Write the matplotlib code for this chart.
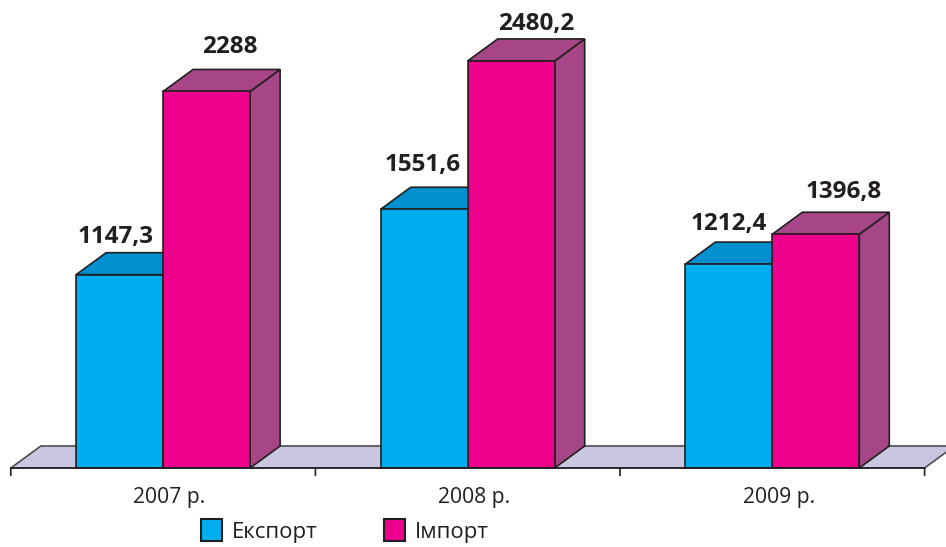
import numpy as np
import matplotlib
matplotlib.use("Agg")
import matplotlib.pyplot as plt
from matplotlib.patches import Polygon, Patch
from matplotlib.transforms import IdentityTransform

years = ["2007 р.", "2008 р.", "2009 р."]
export_values = [1147.3, 1551.6, 1212.4]
import_values = [2288, 2480.2, 1396.8]
export_labels = ["1147,3", "1551,6", "1212,4"]
import_labels = ["2288", "2480,2", "1396,8"]
series_names = ["Експорт", "Імпорт"]

plt.rcParams["font.family"] = ["Open Sans", "DejaVu Sans"]
W, H = 946, 547
fig = plt.figure(figsize=(W / 100, H / 100), dpi=100)
ax = fig.add_axes([0, 0, 1, 1])

INK = "#231F20"
C_EXP, C_EXP_TOP = "#00AEEF", "#0090CF"
C_IMP, C_IMP_DARK = "#EC008C", "#A64686"
C_FLOOR = "#C8C6E1"

# Slightly non-linear value axis, as the picture's perspective has it
P = 0.966
fwd = lambda v: np.sign(v) * np.abs(v) ** P
inv = lambda u: np.sign(u) * np.abs(u) ** (1 / P)
ax.set_yscale("function", functions=(fwd, inv))

px_per_cat = 304.6
cat0_px = 163.1
base_px = 468
k = 193.3 / fwd(1147.3)
ax.set_xlim(-cat0_px / px_per_cat, (W - cat0_px) / px_per_cat)
ax.set_ylim(inv(-(H - base_px) / k), inv(base_px / k))
ax.axis("off")
ax.set_yticks([])

DX, DY = 30, 22
LW = 1.2
bw = 87 / px_per_cat


def to_px(x, y):
    return ax.transData.transform((x, y))


def poly(pts, fc, z, ec=INK, lw=LW):
    ax.add_patch(Polygon(pts, closed=True, fc=fc, ec=ec, lw=lw, joinstyle="miter",
                         transform=IdentityTransform(), zorder=z, clip_on=False))


def box(x0, x1, v, front, top, side, z):
    a, b = to_px(x0, 0), to_px(x1, v)
    d = np.array([DX, DY])
    fl, fr, tl, tr = a, np.array([b[0], a[1]]), np.array([a[0], b[1]]), b
    poly([fr, tr, tr + d, fr + d], side, z)
    poly([tl, tr, tr + d, tl + d], top, z)
    poly([fl, fr, tr, tl], front, z + 0.1)


# Floor
xl, xr = -0.5, 2.5
fa, fb = to_px(xl, 0), to_px(xr, 0)
d = np.array([DX, DY])
poly([fa, fb, fb + d, fa + d], C_FLOOR, 1, ec="#4D4D4F")

for i in range(len(years)):
    z = 2 + i
    box(i - bw, i, export_values[i], C_EXP, C_EXP_TOP, C_EXP_TOP, z)
    box(i, i + bw, import_values[i], C_IMP, C_IMP_DARK, C_IMP_DARK, z + 0.3)

# Value labels, placed in pixels above each box
exp_nudge = [(-4, 38), (-2, 44.5), (-0.5, 40)]
imp_nudge = [(23, 44.5), (25, 37), (28, 42)]
for i in range(len(years)):
    for x, v, s, (nx, ny) in (
        (i - bw / 2, export_values[i], export_labels[i], exp_nudge[i]),
        (i + bw / 2, import_values[i], import_labels[i], imp_nudge[i]),
    ):
        ax.annotate(s, (x, v), xytext=(nx * 0.72, ny * 0.72), textcoords="offset points",
                    ha="center", va="center", fontsize=17.5, fontweight="bold", color=INK, zorder=20)

# Baseline, ticks, category labels
ax.annotate("", xy=(xr, 0), xytext=(xl, 0), arrowprops=dict(arrowstyle="-", lw=LW, color=INK, shrinkA=0, shrinkB=0), zorder=15)
for t in np.arange(xl, xr + 0.01, 1):
    ax.annotate("", xy=(t, 0), xytext=(0, -7.5 * 0.72), xycoords="data", textcoords=("offset points"),
                arrowprops=dict(arrowstyle="-", lw=LW, color=INK, shrinkA=0, shrinkB=0), zorder=15)
for i, lab in enumerate(years):
    ax.annotate(lab, (i, 0), xytext=(6.5 * 0.72, -29 * 0.72), textcoords="offset points",
                ha="center", va="center", fontsize=15.2, color=INK)

handles = [Patch(fc=C_EXP, ec=INK, lw=1.5), Patch(fc=C_IMP, ec=INK, lw=1.5)]
ax.legend(handles, series_names, ncols=2, frameon=False, loc="center left",
          bbox_to_anchor=(201 / W, 1 - 531 / H), fontsize=16, handlelength=0.95, handleheight=1.08,
          handletextpad=0.45, columnspacing=2.97, borderpad=0, borderaxespad=0, labelcolor=INK)

fig.savefig("out.png", dpi=100, facecolor="white")
